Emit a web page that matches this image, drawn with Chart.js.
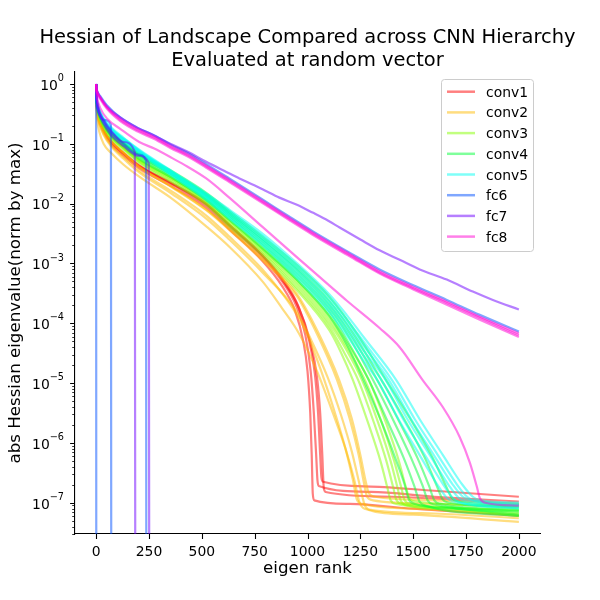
<!DOCTYPE html>
<html>
<head>
<meta charset="utf-8">
<script src="https://cdn.jsdelivr.net/npm/chart.js@4.4.1/dist/chart.umd.min.js"></script>
<style>
  html, body { margin: 0; padding: 0; background: #fff; }
  #wrap { width: 600px; height: 600px; }
</style>
</head>
<body>
<div id="wrap"><canvas id="hess" width="600" height="600"></canvas></div>
<script>
// axis ticks
const rankTicks = [0, 250, 500, 750, 1000, 1250, 1500, 1750, 2000];
const decadeTicks = [0, -1, -2, -3, -4, -5, -6, -7];
const minorSteps = [2, 3, 4, 5, 6, 7, 8, 9];
const yLogMin = -7.51;
const yLogMax = 0.2;

const layerNames = ['conv1', 'conv2', 'conv3', 'conv4', 'conv5', 'fc6', 'fc7', 'fc8'];
const layerColors = [
  [255, 0, 0], [255, 188, 0], [133, 255, 0], [0, 255, 55],
  [0, 255, 243], [0, 79, 255], [110, 0, 255], [255, 0, 212]
];

// each curve: [eigen rank, log10(eigenvalue / max)]
const conv1Curves = [
  [[0,0],[2,-.33],[6,-.48],[15,-.63],[35,-.8],[70,-1.0],[130,-1.2],[204,-1.41],[360,-1.72],[521,-2.07],[630,-2.43],[787,-2.96],[880,-3.38],[940,-3.78],[980,-4.3],[1000,-4.8],[1013,-5.5],[1020,-6.2],[1025,-6.85],[1032,-6.96],[1200,-7.02],[1500,-7.1],[2000,-7.22]],
  [[0,0],[2,-.3],[6,-.45],[15,-.6],[35,-.78],[70,-.97],[130,-1.17],[204,-1.38],[360,-1.68],[521,-2.03],[630,-2.38],[787,-2.9],[880,-3.3],[948,-3.72],[990,-4.2],[1015,-4.8],[1030,-5.5],[1041,-6.2],[1047,-6.62],[1053,-6.72],[1300,-6.82],[1600,-6.9],[2000,-6.98]],
  [[0,0],[2,-.28],[6,-.43],[15,-.58],[35,-.76],[70,-.95],[130,-1.15],[204,-1.36],[360,-1.66],[521,-2.0],[630,-2.35],[787,-2.86],[880,-3.25],[955,-3.7],[1005,-4.25],[1035,-4.85],[1050,-5.5],[1060,-6.2],[1066,-6.58],[1074,-6.65],[1300,-6.73],[1600,-6.8],[2000,-6.9]],
  [[0,0],[2,-.29],[6,-.44],[15,-.59],[35,-.77],[70,-.96],[130,-1.16],[204,-1.37],[360,-1.67],[521,-2.01],[630,-2.36],[787,-2.87],[880,-3.27],[960,-3.75],[1012,-4.3],[1045,-4.9],[1060,-5.5],[1070,-6.2],[1077,-6.75],[1086,-6.82],[1400,-6.9],[2000,-7.02]]
];

const conv2Curves = [
  [[0,0],[2,-.45],[6,-.62],[15,-.8],[35,-1.0],[70,-1.15],[130,-1.35],[204,-1.55],[360,-1.92],[521,-2.38],[630,-2.72],[787,-3.3],[880,-3.75],[948,-4.1],[1000,-4.45],[1045,-4.8],[1120,-5.5],[1180,-6.1],[1220,-6.6],[1245,-6.98],[1270,-7.1],[1500,-7.2],[2000,-7.32]],
  [[0,0],[2,-.34],[6,-.5],[15,-.65],[35,-.83],[70,-1.02],[130,-1.22],[204,-1.45],[360,-1.8],[521,-2.2],[630,-2.55],[787,-3.1],[880,-3.5],[948,-3.85],[1000,-4.2],[1065,-4.8],[1130,-5.5],[1180,-6.1],[1215,-6.62],[1234,-6.95],[1260,-7.02],[1500,-7.1],[2000,-7.2]],
  [[0,0],[2,-.3],[6,-.45],[15,-.6],[35,-.77],[70,-.95],[130,-1.15],[204,-1.38],[360,-1.72],[521,-2.1],[630,-2.42],[787,-2.92],[948,-3.5],[1050,-4.15],[1150,-4.95],[1210,-5.6],[1250,-6.2],[1274,-6.62],[1290,-6.84],[1320,-6.9],[1600,-6.96],[2000,-7.02]],
  [[0,0],[2,-.31],[6,-.46],[15,-.61],[35,-.78],[70,-.96],[130,-1.16],[204,-1.39],[360,-1.73],[521,-2.11],[630,-2.44],[787,-2.95],[948,-3.54],[1045,-4.18],[1140,-4.95],[1200,-5.6],[1242,-6.2],[1266,-6.65],[1282,-6.9],[1310,-6.96],[1600,-7.02],[2000,-7.08]],
  [[0,0],[2,-.36],[6,-.52],[15,-.67],[35,-.85],[70,-1.04],[130,-1.25],[204,-1.48],[360,-1.84],[521,-2.25],[630,-2.6],[787,-3.15],[948,-3.8],[1020,-4.3],[1095,-4.9],[1160,-5.55],[1210,-6.15],[1248,-6.72],[1272,-7.05],[1300,-7.12],[1600,-7.18],[2000,-7.26]]
];

const conv3Curves = [
  [[0,0],[2,-.29],[6,-.42],[15,-.56],[35,-.73],[70,-.91],[130,-1.1],[204,-1.32],[360,-1.65],[521,-2.02],[630,-2.38],[787,-2.87],[948,-3.44],[1104,-4.12],[1160,-4.5],[1215,-4.95],[1290,-5.7],[1345,-6.3],[1378,-6.75],[1392,-6.95],[1420,-7.02],[1700,-7.1],[2000,-7.18]],
  [[0,0],[2,-.28],[6,-.41],[15,-.55],[35,-.71],[70,-.89],[130,-1.08],[204,-1.3],[360,-1.62],[521,-1.99],[630,-2.35],[787,-2.83],[948,-3.4],[1104,-4.06],[1175,-4.5],[1240,-4.95],[1318,-5.7],[1373,-6.3],[1406,-6.75],[1420,-6.95],[1450,-7.02],[1700,-7.08],[2000,-7.15]],
  [[0,0],[2,-.27],[6,-.4],[15,-.54],[35,-.7],[70,-.88],[130,-1.07],[204,-1.28],[360,-1.6],[521,-1.97],[630,-2.32],[787,-2.8],[948,-3.35],[1104,-4.0],[1185,-4.45],[1258,-4.95],[1338,-5.7],[1393,-6.3],[1426,-6.75],[1442,-6.97],[1470,-7.04],[1700,-7.12],[2000,-7.22]],
  [[0,0],[2,-.26],[6,-.39],[15,-.53],[35,-.69],[70,-.87],[130,-1.06],[204,-1.27],[360,-1.58],[521,-1.95],[630,-2.29],[787,-2.77],[948,-3.3],[1104,-3.94],[1195,-4.45],[1272,-4.95],[1355,-5.7],[1410,-6.3],[1444,-6.75],[1460,-6.96],[1490,-7.02],[2000,-7.12]],
  [[0,0],[2,-.26],[6,-.38],[15,-.52],[35,-.68],[70,-.86],[130,-1.05],[204,-1.26],[360,-1.57],[521,-1.93],[630,-2.27],[787,-2.74],[948,-3.26],[1104,-3.88],[1200,-4.4],[1290,-4.95],[1375,-5.7],[1432,-6.3],[1466,-6.75],[1483,-6.93],[1510,-6.98],[2000,-7.05]]
];

const conv4Curves = [
  [[0,0],[2,-.27],[6,-.39],[15,-.53],[35,-.68],[70,-.86],[130,-1.04],[204,-1.25],[360,-1.57],[521,-1.94],[630,-2.27],[787,-2.75],[948,-3.27],[1104,-3.88],[1185,-4.35],[1265,-4.95],[1350,-5.65],[1415,-6.25],[1460,-6.7],[1480,-6.95],[1510,-7.02],[1700,-7.1],[2000,-7.2]],
  [[0,0],[2,-.26],[6,-.38],[15,-.51],[35,-.66],[70,-.84],[130,-1.02],[204,-1.22],[360,-1.54],[521,-1.91],[630,-2.23],[787,-2.7],[948,-3.21],[1104,-3.81],[1190,-4.3],[1290,-4.95],[1380,-5.65],[1455,-6.25],[1505,-6.72],[1530,-6.98],[1560,-7.05],[2000,-7.22]],
  [[0,0],[2,-.25],[6,-.37],[15,-.5],[35,-.65],[70,-.82],[130,-1.0],[204,-1.2],[360,-1.52],[521,-1.88],[630,-2.2],[787,-2.66],[948,-3.16],[1104,-3.75],[1200,-4.25],[1310,-4.95],[1410,-5.65],[1490,-6.25],[1545,-6.72],[1570,-6.97],[1600,-7.03],[2000,-7.15]],
  [[0,0],[2,-.25],[6,-.36],[15,-.49],[35,-.64],[70,-.81],[130,-.99],[204,-1.18],[360,-1.5],[521,-1.86],[630,-2.17],[787,-2.62],[948,-3.11],[1104,-3.69],[1215,-4.25],[1330,-4.95],[1435,-5.65],[1520,-6.25],[1575,-6.72],[1600,-6.96],[1630,-7.02],[2000,-7.12]],
  [[0,0],[2,-.24],[6,-.36],[15,-.48],[35,-.63],[70,-.8],[130,-.98],[204,-1.17],[360,-1.48],[521,-1.84],[630,-2.15],[787,-2.59],[948,-3.07],[1104,-3.63],[1225,-4.22],[1350,-4.95],[1465,-5.65],[1555,-6.25],[1612,-6.72],[1640,-6.95],[1670,-7.0],[2000,-7.08]],
  [[0,0],[2,-.24],[6,-.35],[15,-.47],[35,-.62],[70,-.78],[130,-.96],[204,-1.15],[360,-1.46],[521,-1.82],[630,-2.12],[787,-2.55],[948,-3.02],[1104,-3.56],[1235,-4.18],[1372,-4.95],[1495,-5.65],[1592,-6.25],[1655,-6.72],[1685,-6.93],[1715,-6.98],[2000,-7.05]]
];

const conv5Curves = [
  [[0,0],[2,-.24],[6,-.35],[15,-.48],[35,-.63],[70,-.79],[130,-.96],[204,-1.16],[360,-1.54],[521,-1.94],[630,-2.25],[787,-2.7],[948,-3.24],[1104,-3.82],[1185,-4.2],[1270,-4.65],[1330,-4.95],[1430,-5.6],[1530,-6.2],[1615,-6.7],[1660,-6.92],[1690,-6.98],[2000,-7.08]],
  [[0,0],[2,-.23],[6,-.34],[15,-.47],[35,-.62],[70,-.77],[130,-.94],[204,-1.14],[360,-1.52],[521,-1.91],[630,-2.22],[787,-2.66],[948,-3.19],[1104,-3.76],[1185,-4.13],[1270,-4.56],[1350,-4.95],[1452,-5.6],[1555,-6.2],[1643,-6.7],[1690,-6.93],[1720,-6.99],[2000,-7.1]],
  [[0,0],[2,-.22],[6,-.33],[15,-.46],[35,-.61],[70,-.76],[130,-.93],[204,-1.13],[360,-1.5],[521,-1.89],[630,-2.19],[787,-2.62],[948,-3.14],[1104,-3.7],[1185,-4.06],[1270,-4.48],[1370,-4.95],[1472,-5.6],[1578,-6.2],[1667,-6.7],[1715,-6.92],[1745,-6.97],[2000,-7.05]],
  [[0,0],[2,-.22],[6,-.33],[15,-.45],[35,-.6],[70,-.75],[130,-.92],[204,-1.12],[360,-1.49],[521,-1.87],[630,-2.16],[787,-2.58],[948,-3.09],[1104,-3.64],[1185,-3.99],[1270,-4.4],[1385,-4.95],[1490,-5.6],[1597,-6.2],[1688,-6.7],[1735,-6.9],[1765,-6.95],[2000,-7.02]],
  [[0,0],[2,-.21],[6,-.32],[15,-.44],[35,-.59],[70,-.74],[130,-.91],[204,-1.11],[360,-1.47],[521,-1.85],[630,-2.13],[787,-2.54],[948,-3.04],[1104,-3.58],[1185,-3.93],[1270,-4.33],[1400,-4.95],[1507,-5.6],[1616,-6.2],[1708,-6.7],[1755,-6.9],[1785,-6.96],[2000,-7.04]],
  [[0,0],[2,-.21],[6,-.31],[15,-.43],[35,-.57],[70,-.72],[130,-.9],[204,-1.1],[360,-1.46],[521,-1.83],[630,-2.1],[787,-2.5],[948,-2.99],[1104,-3.52],[1185,-3.86],[1270,-4.25],[1420,-4.95],[1530,-5.6],[1640,-6.2],[1733,-6.7],[1782,-6.9],[1810,-6.95],[2000,-7.0]]
];

const fc6Curves = [
  [[0,0],[1,-12]],
  [[0,0],[2,-.3],[6,-.42],[15,-.52],[35,-.6],[70,-.68],[72,-12]],
  [[0,0],[2,-.24],[6,-.36],[15,-.48],[35,-.62],[70,-.8],[130,-1.0],[200,-1.18],[236,-1.28],[238,-12]],
  [[0,0],[2,-.08],[6,-.13],[19,-.2],[52,-.36],[114,-.56],[194,-.73],[275,-.86],[351,-1.01],[431,-1.15],[521,-1.34],[630,-1.58],[787,-1.93],[915,-2.22],[1024,-2.46],[1199,-2.82],[1341,-3.1],[1498,-3.36],[1659,-3.61],[1815,-3.86],[2000,-4.14]]
];

const fc7Curves = [
  [[0,0],[2,-.2],[6,-.33],[15,-.46],[35,-.6],[70,-.78],[130,-.97],[183,-1.14],[186,-12]],
  [[0,0],[2,-.22],[6,-.36],[15,-.5],[35,-.66],[70,-.85],[130,-1.04],[200,-1.2],[249,-1.32],[252,-12]],
  [[0,0],[2,-.08],[6,-.13],[19,-.22],[52,-.38],[114,-.56],[194,-.73],[275,-.86],[351,-1.0],[431,-1.13],[521,-1.3],[616,-1.47],[678,-1.58],[787,-1.76],[867,-1.9],[950,-2.02],[1024,-2.15],[1100,-2.29],[1152,-2.4],[1250,-2.6],[1341,-2.78],[1436,-2.94],[1531,-3.1],[1659,-3.27],[1782,-3.47],[1877,-3.61],[2000,-3.77]]
];

const fc8Curves = [
  [[0,0],[2,-.1],[6,-.15],[19,-.23],[52,-.4],[114,-.6],[194,-.77],[275,-.9],[351,-1.05],[431,-1.19],[521,-1.38],[630,-1.62],[787,-1.97],[915,-2.26],[1024,-2.5],[1199,-2.86],[1341,-3.15],[1498,-3.41],[1659,-3.66],[1815,-3.91],[2000,-4.2]],
  [[0,0],[2,-.11],[6,-.16],[19,-.25],[52,-.42],[114,-.62],[194,-.79],[275,-.92],[351,-1.07],[431,-1.21],[521,-1.4],[630,-1.64],[787,-1.99],[915,-2.28],[1024,-2.52],[1199,-2.88],[1341,-3.17],[1498,-3.43],[1659,-3.69],[1815,-3.94],[2000,-4.23]],
  [[0,0],[2,-.09],[6,-.14],[19,-.22],[52,-.39],[114,-.58],[194,-.75],[275,-.88],[351,-1.03],[431,-1.17],[521,-1.36],[630,-1.6],[787,-1.95],[915,-2.24],[1024,-2.48],[1199,-2.84],[1341,-3.13],[1498,-3.39],[1659,-3.64],[1815,-3.89],[2000,-4.17]],
  [[0,0],[2,-.15],[6,-.25],[19,-.4],[52,-.58],[114,-.75],[204,-.97],[275,-1.08],[360,-1.24],[431,-1.38],[521,-1.58],[630,-1.9],[787,-2.39],[948,-2.89],[1104,-3.37],[1185,-3.62],[1341,-4.08],[1436,-4.4],[1545,-4.95],[1640,-5.4],[1720,-5.9],[1768,-6.33],[1801,-6.73],[1815,-6.92],[1840,-7.0],[2000,-7.05]]
];

const curvesByLayer = [conv1Curves, conv2Curves, conv3Curves, conv4Curves, conv5Curves, fc6Curves, fc7Curves, fc8Curves];

function rgba(c, a) {
  return `rgba(${c[0]}, ${c[1]}, ${c[2]}, ${a})`;
}

const datasets = [];
curvesByLayer.forEach((curves, li) => {
  curves.forEach(pts => {
    datasets.push({
      label: layerNames[li],
      data: pts.map(([r, e]) => ({ x: r, y: Math.pow(10, e) })),
      borderColor: rgba(layerColors[li], 0.5),
      borderWidth: 2.2,
      pointRadius: 0,
      fill: false,
      cubicInterpolationMode: 'monotone',
      clip: 0,
      order: -datasets.length
    });
  });
});

const FONT = 'DejaVu Sans';

// title, axis labels, tick marks, log tick labels and legend
const decorPlugin = {
  id: 'decor',
  afterDraw(chart) {
    const ctx = chart.ctx;
    const area = chart.chartArea;
    const xs = chart.scales.x;
    const ys = chart.scales.y;
    const cx = (area.left + area.right) / 2;
    ctx.save();
    ctx.fillStyle = '#000';
    ctx.strokeStyle = '#000';

    // major ticks
    ctx.lineWidth = 1.1;
    ctx.beginPath();
    rankTicks.forEach(v => {
      const px = Math.round(xs.getPixelForValue(v)) + 0.5;
      ctx.moveTo(px, area.bottom);
      ctx.lineTo(px, area.bottom + 4.9);
    });
    decadeTicks.forEach(e => {
      const py = Math.round(ys.getPixelForValue(Math.pow(10, e))) + 0.5;
      ctx.moveTo(area.left, py);
      ctx.lineTo(area.left - 4.9, py);
    });
    ctx.stroke();

    // minor ticks on the log axis
    ctx.lineWidth = 0.8;
    ctx.beginPath();
    for (let e = -8; e <= 0; e++) {
      minorSteps.forEach(m => {
        const v = m * Math.pow(10, e);
        if (v < ys.min || v > ys.max) return;
        const py = Math.round(ys.getPixelForValue(v)) + 0.5;
        ctx.moveTo(area.left, py);
        ctx.lineTo(area.left - 2.8, py);
      });
    }
    ctx.stroke();

    // y tick labels as 10^n
    ctx.textAlign = 'right';
    ctx.textBaseline = 'alphabetic';
    decadeTicks.forEach(e => {
      const py = ys.getPixelForValue(Math.pow(10, e));
      const expStr = e === 0 ? '0' : '\u2212' + (-e);
      ctx.font = `9.7px "${FONT}"`;
      const ew = ctx.measureText(expStr).width;
      ctx.fillText(expStr, 64, py - 2.8);
      ctx.font = `13.9px "${FONT}"`;
      ctx.fillText('10', 64 - ew, py + 5.8);
    });

    // title
    ctx.textAlign = 'center';
    ctx.font = `19.44px "${FONT}"`;
    ctx.fillText('Hessian of Landscape Compared across CNN Hierarchy', cx, 43);
    ctx.fillText('Evaluated at random vector', cx, 65.5);

    // axis labels
    ctx.font = `16.67px "${FONT}"`;
    ctx.fillText('eigen rank', cx, 573);
    ctx.save();
    ctx.translate(19.5, (area.top + area.bottom) / 2);
    ctx.rotate(-Math.PI / 2);
    ctx.fillText('abs Hessian eigenvalue(norm by max)', 0, 0);
    ctx.restore();

    // legend
    const lx = 441.5, ly = 79.5, lw = 92, lh = 172, rad = 3;
    ctx.beginPath();
    ctx.moveTo(lx + rad, ly);
    ctx.arcTo(lx + lw, ly, lx + lw, ly + lh, rad);
    ctx.arcTo(lx + lw, ly + lh, lx, ly + lh, rad);
    ctx.arcTo(lx, ly + lh, lx, ly, rad);
    ctx.arcTo(lx, ly, lx + lw, ly, rad);
    ctx.closePath();
    ctx.fillStyle = 'rgba(255,255,255,0.8)';
    ctx.fill();
    ctx.strokeStyle = '#cccccc';
    ctx.lineWidth = 1;
    ctx.stroke();

    ctx.textAlign = 'left';
    ctx.font = `13.9px "${FONT}"`;
    layerNames.forEach((name, i) => {
      const ry = 91.7 + i * 20.7;
      ctx.strokeStyle = rgba(layerColors[i], 0.5);
      ctx.lineWidth = 2.5;
      ctx.beginPath();
      ctx.moveTo(447, ry);
      ctx.lineTo(475, ry);
      ctx.stroke();
      ctx.fillStyle = '#000';
      ctx.fillText(name, 486, ry + 5);
    });
    ctx.restore();
  }
};

new Chart(document.getElementById('hess'), {
  type: 'line',
  data: { datasets },
  options: {
    responsive: false,
    animation: false,
    events: [],
    layout: { padding: { top: 72, right: 60, bottom: 0, left: 0 } },
    plugins: {
      legend: { display: false },
      title: { display: false },
      tooltip: { enabled: false }
    },
    scales: {
      x: {
        type: 'linear',
        min: -100,
        max: 2100,
        grid: { display: false },
        border: { display: true, color: '#000', width: 1.1 },
        ticks: {
          color: '#000',
          font: { family: FONT, size: 13.9 },
          padding: 2.5,
          maxRotation: 0,
          autoSkip: false,
          callback: v => String(v)
        },
        afterBuildTicks: s => { s.ticks = rankTicks.map(v => ({ value: v })); },
        afterFit: s => { s.height = 66; }
      },
      y: {
        type: 'logarithmic',
        min: Math.pow(10, yLogMin),
        max: Math.pow(10, yLogMax),
        grid: { display: false },
        border: { display: true, color: '#000', width: 1.1 },
        ticks: { display: false },
        afterBuildTicks: s => { s.ticks = decadeTicks.map(e => ({ value: Math.pow(10, e) })); },
        afterFit: s => { s.width = 75; }
      }
    }
  },
  plugins: [decorPlugin]
});
</script>
</body>
</html>
